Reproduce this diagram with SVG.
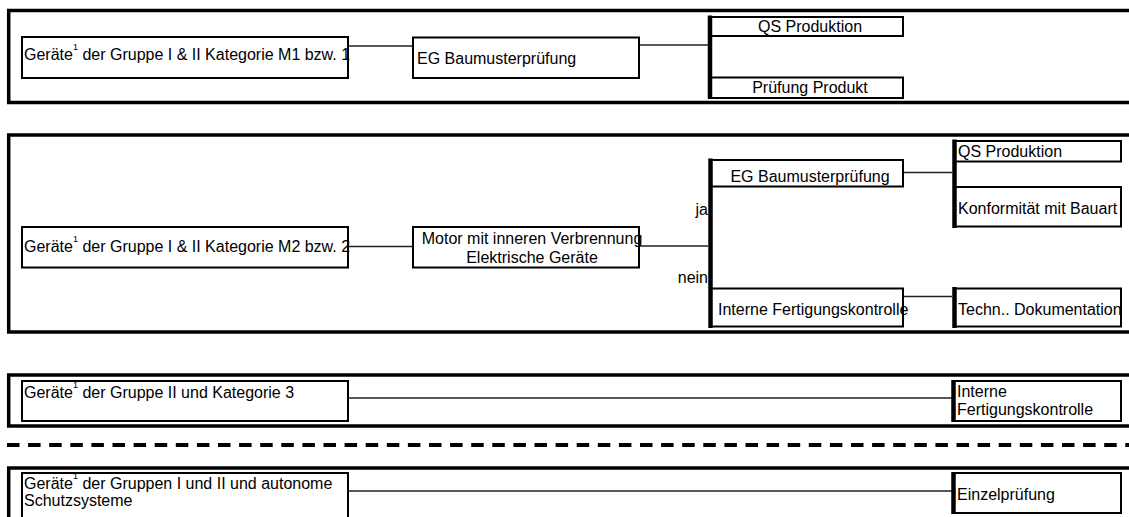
<svg xmlns="http://www.w3.org/2000/svg" width="1129" height="517" viewBox="0 0 1129 517">
  <style>
    text { font-family: "Liberation Sans", Arial, sans-serif; font-size: 16px; fill: #000; }
    .sup { font-size: 9px; }
    .frame { fill: none; stroke: #000; stroke-width: 3.5; }
    .box { fill: #fff; stroke: #000; stroke-width: 2; }
    .bar { stroke: #000; stroke-width: 4.5; fill: none; }
    .link { stroke: #222; stroke-width: 1.3; fill: none; }
    .mid { text-anchor: middle; }
    .end { text-anchor: end; }
  </style>

  <!-- section frames (open to the right) -->
  <g id="frames">
    <path class="frame" d="M1135,10.5 H8.7 V102.5 H1135"/>
    <path class="frame" d="M1135,135 H8.7 V332 H1135"/>
    <path class="frame" d="M1135,375 H8.7 V426 H1135"/>
    <path class="frame" d="M1135,468 H8.7 V530"/>
    <line x1="7" y1="445" x2="1129" y2="445" stroke="#000" stroke-width="4" stroke-dasharray="12.5 8.6"/>
  </g>

  <!-- connectors -->
  <g id="connectors">
    <line class="link" x1="348" y1="46" x2="413" y2="46"/>
    <line class="link" x1="639" y1="45" x2="708" y2="45"/>
    <line class="link" x1="348" y1="246.5" x2="413" y2="246.5"/>
    <line class="link" x1="639" y1="246" x2="708" y2="246"/>
    <line class="link" x1="903" y1="172.5" x2="952" y2="172.5"/>
    <line class="link" x1="903" y1="296.5" x2="952" y2="296.5"/>
    <line class="link" x1="348" y1="398" x2="952" y2="398"/>
    <line class="link" x1="348" y1="491" x2="952" y2="491"/>
  </g>

  <!-- section 1 -->
  <g id="node-m1">
    <rect class="box" x="22" y="37" width="326" height="41"/>
    <text x="24" y="59.5">Geräte<tspan class="sup" dy="-10">1</tspan><tspan dy="10"> der Gruppe I &amp; II Kategorie M1 bzw. 1</tspan></text>
  </g>
  <g id="node-eg1">
    <rect class="box" x="413" y="37.5" width="226" height="40.5"/>
    <text x="417" y="64">EG Baumusterprüfung</text>
  </g>
  <g id="node-qs1">
    <rect class="box" x="710" y="17" width="193" height="19"/>
    <rect class="box" x="710" y="77.5" width="193" height="20.5"/>
    <line class="bar" x1="710" y1="15.5" x2="710" y2="99"/>
    <text class="mid" x="810" y="32">QS Produktion</text>
    <text class="mid" x="810" y="93">Prüfung Produkt</text>
  </g>

  <!-- section 2 -->
  <g id="node-m2">
    <rect class="box" x="22" y="227" width="326" height="40.5"/>
    <text x="24" y="252">Geräte<tspan class="sup" dy="-10">1</tspan><tspan dy="10"> der Gruppe I &amp; II Kategorie M2 bzw. 2</tspan></text>
  </g>
  <g id="node-motor">
    <rect class="box" x="413" y="227" width="226" height="40.5"/>
    <text class="mid" x="532" y="243.5">Motor mit inneren Verbrennung</text>
    <text class="mid" x="532" y="263">Elektrische Geräte</text>
  </g>
  <g id="node-choice">
    <rect class="box" x="710" y="160" width="193" height="26.5"/>
    <rect class="box" x="710" y="288.5" width="193" height="38"/>
    <line class="bar" x1="710.5" y1="158.5" x2="710.5" y2="328"/>
    <text class="mid" x="810" y="181.5">EG Baumusterprüfung</text>
    <text x="718" y="315">Interne Fertigungskontrolle</text>
    <text class="end" x="708" y="215">ja</text>
    <text class="end" x="708" y="283">nein</text>
  </g>
  <g id="node-qs2">
    <rect class="box" x="954" y="141" width="167" height="20.5"/>
    <rect class="box" x="954" y="187" width="167" height="39.5"/>
    <line class="bar" x1="954.5" y1="139.5" x2="954.5" y2="228"/>
    <text x="958" y="156.5">QS Produktion</text>
    <text x="958" y="213.5">Konformität mit Bauart</text>
  </g>
  <g id="node-doc">
    <rect class="box" x="954" y="288.5" width="167" height="38"/>
    <line class="bar" x1="954.5" y1="287" x2="954.5" y2="328"/>
    <text x="958" y="315">Techn.. Dokumentation</text>
  </g>

  <!-- section 3 -->
  <g id="node-k3">
    <rect class="box" x="22" y="381" width="326" height="40"/>
    <text x="24" y="397.5">Geräte<tspan class="sup" dy="-10">1</tspan><tspan dy="10"> der Gruppe II und Kategorie 3</tspan></text>
  </g>
  <g id="node-ifk">
    <rect class="box" x="953" y="381" width="168" height="40"/>
    <line class="bar" x1="953.5" y1="380" x2="953.5" y2="422"/>
    <text x="957" y="397">Interne</text>
    <text x="957" y="415">Fertigungskontrolle</text>
  </g>

  <!-- section 4 -->
  <g id="node-auto">
    <rect class="box" x="22" y="473" width="326" height="50"/>
    <text x="24" y="489">Geräte<tspan class="sup" dy="-10">1</tspan><tspan dy="10"> der Gruppen I und II und autonome</tspan></text>
    <text x="24" y="506">Schutzsysteme</text>
  </g>
  <g id="node-einzel">
    <rect class="box" x="953" y="473" width="168" height="40"/>
    <line class="bar" x1="953.5" y1="472" x2="953.5" y2="514"/>
    <text x="957" y="500">Einzelprüfung</text>
  </g>
</svg>
